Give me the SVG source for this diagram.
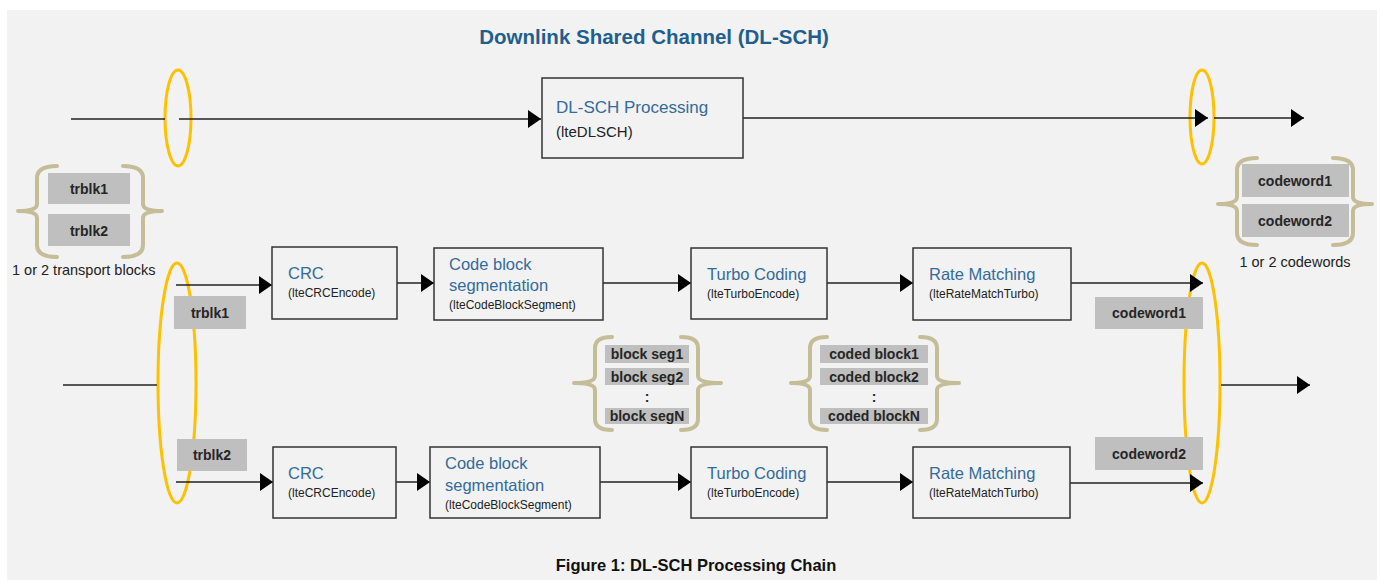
<svg xmlns="http://www.w3.org/2000/svg" width="1382" height="582" viewBox="0 0 1382 582">
<style>
.box{fill:none;stroke:#333;stroke-width:1.5}
.t1{font-family:"Liberation Sans",Arial,sans-serif;font-size:16.5px;fill:#336b9c}
.t2{font-family:"Liberation Sans",Arial,sans-serif;font-size:12px;fill:#222}
.lbl{fill:#bfbfbf}
.lt{font-family:"Liberation Sans",Arial,sans-serif;font-size:14px;font-weight:bold;fill:#262626;text-anchor:middle}
.note{font-family:"Liberation Sans",Arial,sans-serif;font-size:14.5px;fill:#222}
.ell{fill:none;stroke:#ffc000;stroke-width:3}
.br{fill:none;stroke:#c4bd97;stroke-width:4;stroke-linecap:round;stroke-linejoin:round}
.ln{stroke:#222;stroke-width:1.5;fill:none}
.arr{stroke:#222;stroke-width:1.5;fill:none;marker-end:url(#ah)}
</style>
<defs>
<marker id="ah" markerUnits="userSpaceOnUse" markerWidth="14" markerHeight="20" refX="13" refY="10" orient="auto">
<path d="M0,1 L13,10 L0,19 z" fill="#000"/>
</marker>
</defs>
<rect x="0" y="0" width="1382" height="582" fill="#fff"/>
<rect x="7" y="10" width="1370" height="570" fill="#f2f2f2"/>
<text x="654" y="44" text-anchor="middle" font-family="Liberation Sans,Arial,sans-serif" font-size="20.5" font-weight="bold" fill="#1f5f8f">Downlink Shared Channel (DL-SCH)</text>
<text x="696" y="571" text-anchor="middle" font-family="Liberation Sans,Arial,sans-serif" font-size="16.5" font-weight="bold" fill="#111">Figure 1: DL-SCH Processing Chain</text>

<g id="ellipses">
<ellipse class="ell" cx="178" cy="118" rx="13" ry="48"/>
<ellipse class="ell" cx="1202" cy="117" rx="12" ry="47"/>
<ellipse class="ell" cx="177" cy="383" rx="19" ry="120"/>
<ellipse class="ell" cx="1202" cy="383" rx="18" ry="120"/>
</g>

<g id="connectors">
<line class="ln" x1="71" y1="119" x2="165" y2="119"/>
<line class="arr" x1="179" y1="119" x2="541" y2="119"/>
<line class="arr" x1="743" y1="118" x2="1208" y2="118"/>
<line class="arr" x1="1214" y1="118" x2="1304" y2="118"/>
<line class="ln" x1="63" y1="385" x2="157" y2="385"/>
<line class="arr" x1="1221" y1="385" x2="1310" y2="385"/>
<line class="arr" x1="176" y1="285" x2="272" y2="285"/>
<line class="arr" x1="397" y1="283" x2="434" y2="283"/>
<line class="arr" x1="603" y1="283" x2="691" y2="283"/>
<line class="arr" x1="827" y1="283" x2="913" y2="283"/>
<line class="arr" x1="1071" y1="283" x2="1203" y2="283"/>
<line class="arr" x1="176" y1="482" x2="273" y2="482"/>
<line class="arr" x1="396" y1="482" x2="430" y2="482"/>
<line class="arr" x1="600" y1="482" x2="691" y2="482"/>
<line class="arr" x1="827" y1="482" x2="913" y2="482"/>
<line class="arr" x1="1070" y1="483" x2="1203" y2="483"/>
</g>

<g id="dlsch">
<rect class="box" x="542" y="78" width="201" height="80"/>
<text class="t1" x="556" y="113" style="font-size:17px">DL-SCH Processing</text>
<text class="t2" x="556" y="137" style="font-size:15px">(lteDLSCH)</text>
</g>

<g id="crc1">
<rect class="box" x="272" y="247" width="125" height="72"/>
<text class="t1" x="288" y="279">CRC</text>
<text class="t2" x="288" y="297">(lteCRCEncode)</text>
</g>
<g id="seg1">
<rect class="box" x="434" y="248" width="169" height="72"/>
<text class="t1" x="449" y="270">Code block</text>
<text class="t1" x="449" y="291">segmentation</text>
<text class="t2" x="449" y="309">(lteCodeBlockSegment)</text>
</g>
<g id="turbo1">
<rect class="box" x="691" y="248" width="136" height="71"/>
<text class="t1" x="707" y="280">Turbo Coding</text>
<text class="t2" x="707" y="298">(lteTurboEncode)</text>
</g>
<g id="rate1">
<rect class="box" x="913" y="248" width="158" height="72"/>
<text class="t1" x="929" y="280">Rate Matching</text>
<text class="t2" x="929" y="298">(lteRateMatchTurbo)</text>
</g>

<g id="crc2">
<rect class="box" x="273" y="447" width="123" height="71"/>
<text class="t1" x="288" y="479">CRC</text>
<text class="t2" x="288" y="497">(lteCRCEncode)</text>
</g>
<g id="seg2">
<rect class="box" x="430" y="447" width="170" height="71"/>
<text class="t1" x="445" y="469">Code block</text>
<text class="t1" x="445" y="491">segmentation</text>
<text class="t2" x="445" y="509">(lteCodeBlockSegment)</text>
</g>
<g id="turbo2">
<rect class="box" x="691" y="447" width="136" height="71"/>
<text class="t1" x="707" y="479">Turbo Coding</text>
<text class="t2" x="707" y="497">(lteTurboEncode)</text>
</g>
<g id="rate2">
<rect class="box" x="913" y="447" width="157" height="71"/>
<text class="t1" x="929" y="479">Rate Matching</text>
<text class="t2" x="929" y="497">(lteRateMatchTurbo)</text>
</g>

<g id="label-trblk1">
<rect class="lbl" x="174" y="296" width="72" height="33"/>
<text class="lt" x="210" y="318">trblk1</text>
</g>
<g id="label-trblk2">
<rect class="lbl" x="177" y="439" width="70" height="32"/>
<text class="lt" x="212" y="460">trblk2</text>
</g>
<g id="label-codeword1">
<rect class="lbl" x="1095" y="297" width="108" height="32"/>
<text class="lt" x="1149" y="318">codeword1</text>
</g>
<g id="label-codeword2">
<rect class="lbl" x="1095" y="437" width="108" height="33"/>
<text class="lt" x="1149" y="459">codeword2</text>
</g>

<g id="transport-blocks">
<path class="br" d="M57,166 Q37,166 37,178 L37,204 Q37,211 18,211 Q37,211 37,218 L37,245 Q37,257 57,257"/>
<path class="br" d="M123,166 Q143,166 143,178 L143,204 Q143,211 162,211 Q143,211 143,218 L143,245 Q143,257 123,257"/>
<rect class="lbl" x="48" y="173" width="82" height="31"/>
<text class="lt" x="89" y="194">trblk1</text>
<rect class="lbl" x="48" y="214" width="82" height="32"/>
<text class="lt" x="89" y="236">trblk2</text>
<text class="note" x="12" y="275">1 or 2 transport blocks</text>
</g>

<g id="codewords">
<path class="br" d="M1257,158 Q1237,158 1237,170 L1237,197 Q1237,204 1218,204 Q1237,204 1237,211 L1237,233 Q1237,245 1257,245"/>
<path class="br" d="M1333,158 Q1353,158 1353,170 L1353,197 Q1353,204 1372,204 Q1353,204 1353,211 L1353,233 Q1353,245 1333,245"/>
<rect class="lbl" x="1242" y="164" width="107" height="33"/>
<text class="lt" x="1295" y="186">codeword1</text>
<rect class="lbl" x="1242" y="204" width="107" height="33"/>
<text class="lt" x="1295" y="226">codeword2</text>
<text class="note" x="1295" y="267" text-anchor="middle">1 or 2 codewords</text>
</g>

<g id="block-segments">
<path class="br" d="M612,337 Q595,337 595,348 L595,376 Q595,383 574,383 Q595,383 595,390 L595,419 Q595,430 612,430"/>
<path class="br" d="M681,337 Q698,337 698,348 L698,376 Q698,383 721,383 Q698,383 698,390 L698,419 Q698,430 681,430"/>
<rect class="lbl" x="605" y="345" width="84" height="18"/>
<text class="lt" x="647" y="359">block seg1</text>
<rect class="lbl" x="605" y="368" width="84" height="17"/>
<text class="lt" x="647" y="382">block seg2</text>
<text class="lt" x="647" y="402">:</text>
<rect class="lbl" x="605" y="408" width="84" height="16"/>
<text class="lt" x="647" y="421">block segN</text>
</g>

<g id="coded-blocks">
<path class="br" d="M827,337 Q810,337 810,348 L810,376 Q810,383 791,383 Q810,383 810,390 L810,419 Q810,430 827,430"/>
<path class="br" d="M920,337 Q937,337 937,348 L937,376 Q937,383 959,383 Q937,383 937,390 L937,419 Q937,430 920,430"/>
<rect class="lbl" x="820" y="345" width="108" height="18"/>
<text class="lt" x="874" y="359">coded block1</text>
<rect class="lbl" x="820" y="368" width="108" height="17"/>
<text class="lt" x="874" y="382">coded block2</text>
<text class="lt" x="874" y="402">:</text>
<rect class="lbl" x="820" y="408" width="108" height="16"/>
<text class="lt" x="874" y="421">coded blockN</text>
</g>
</svg>
